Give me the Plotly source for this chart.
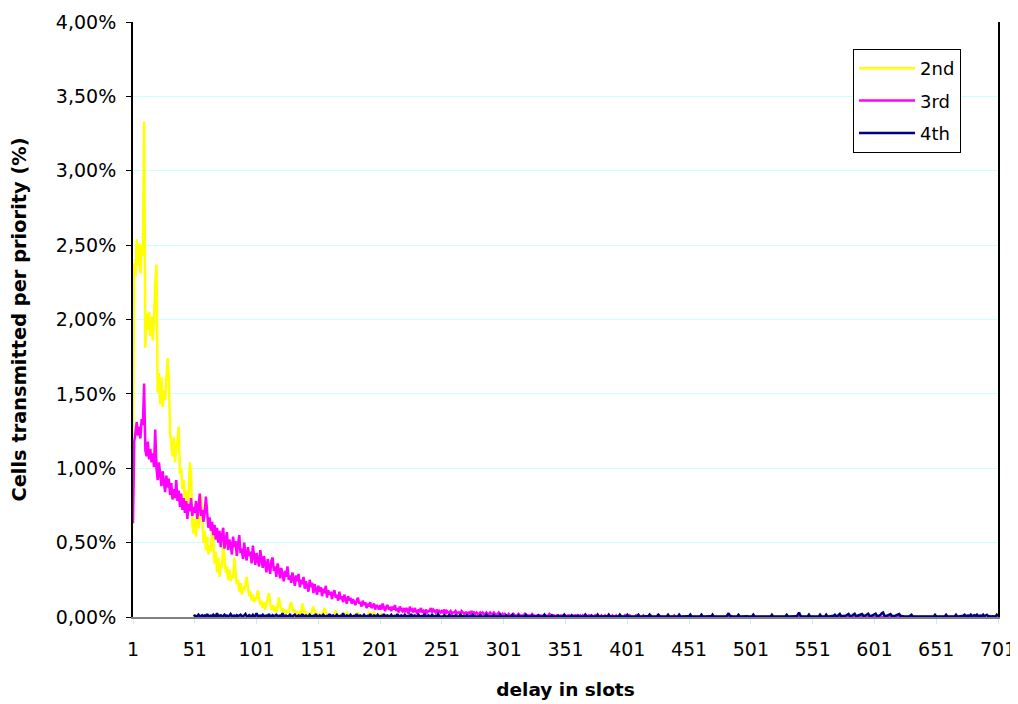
import plotly.graph_objects as go

# values in hundredths of a percent (333 -> 3.33 %), one per delay slot starting at slot 1
second = [
    122, 238, 229, 254, 236, 251, 231, 250, 243, 333,
    181, 204, 193, 205, 189, 202, 186, 199, 224, 237,
    151, 164, 143, 161, 141, 152, 146, 162, 174, 160,
    124, 116, 108, 121, 104, 113, 118, 128, 96, 100,
    86, 92, 78, 85, 74, 83, 104, 96, 62, 56,
    66, 54, 71, 60, 68, 82, 72, 50, 58, 45,
    54, 42, 48, 44, 60, 52, 36, 44, 30, 40,
    27, 36, 33, 50, 42, 30, 34, 25, 32, 24,
    28, 26, 40, 32, 22, 25, 17, 23, 15, 20,
    18, 22, 27, 20, 14, 17, 11, 15, 10, 13,
    12, 18, 14, 8, 11, 6, 10, 5, 9, 12,
    16, 10, 5, 8, 4, 7, 3, 6, 13, 9,
    4, 6, 3, 5, 2, 4, 3, 8, 10, 6,
    3, 4, 2, 3, 1, 3, 2, 9, 5, 2,
    3, 1, 2, 1, 2, 4, 7, 4, 1, 2,
    1, 2, 1, 1, 3, 6, 3, 1, 1, 0,
    1, 1, 0, 2, 4, 2, 1, 0, 1, 0,
    0, 1, 1, 3, 2, 0, 1, 0, 0, 1,
    0, 1, 3, 1, 0, 0, 1, 0, 0, 0,
    1, 3, 2, 1, 2, 3, 1, 0, 0, 1,
    0, 2, 1, 0, 0, 1, 0, 0, 1, 0,
    0, 1, 0, 0, 0, 1, 0, 0, 0, 0,
    0, 0, 1, 0, 0, 0, 0, 0, 1, 0,
    0, 0, 0, 0, 0, 0, 0, 0, 0, 0,
    0, 0, 0, 0, 0, 0, 0, 0, 0, 0,
    0, 0, 0, 0, 0, 0, 0, 0, 0, 0,
    0, 0, 0, 0, 0, 0, 0, 0, 0, 0,
    0, 0, 0, 0, 0, 0, 0, 0, 0, 0,
    0, 0, 0, 0, 0, 0, 0, 0, 0, 0,
    0, 0, 0, 0, 0, 0, 0, 0, 0, 0,
    0, 0, 0, 0, 0, 0, 0, 0, 0, 0,
    0, 0, 0, 0, 0, 0, 0, 0, 0, 0,
    0, 0, 0, 0, 0, 0, 0, 0, 0, 0,
    0, 0, 0, 0, 0, 0, 0, 0, 0, 0,
    0, 0, 0, 0, 0, 0, 0, 0, 0, 0,
    0, 0, 0, 0, 0, 0, 0, 0, 0, 0,
    0, 0, 0, 0, 0, 0, 0, 0, 0, 0,
    0, 0, 0, 0, 0, 0, 0, 0, 0, 0,
    0, 0, 0, 0, 0, 0, 0, 0, 0, 0,
    0, 0, 0, 0, 0, 0, 0, 0, 0, 0,
    0, 0, 0, 0, 0, 0, 0, 0, 0, 0,
    0, 0, 0, 0, 0, 0, 0, 0, 0, 0,
    0, 0, 0, 0, 0, 0, 0, 0, 0, 0,
    0, 0, 0, 0, 0, 0, 0, 0, 0, 0,
    0, 0, 0, 0, 0, 0, 0, 0, 0, 0,
    0, 0, 0, 0, 0, 0, 0, 0, 0, 0,
    0, 0, 0, 0, 0, 0, 0, 0, 0, 0,
    0, 0, 0, 0, 0, 0, 0, 0, 0, 0,
    0, 0, 0, 0, 0, 0, 0, 0, 0, 0,
    0, 0, 0, 0, 0, 0, 0, 0, 0, 0,
    0, 0, 0, 0, 0, 0, 0, 0, 0, 0,
    0, 0, 0, 0, 0, 0, 0, 0, 0, 0,
    0, 0, 0, 0, 0, 0, 0, 0, 0, 0,
    0, 0, 0, 0, 0, 0, 0, 0, 0, 0,
    0, 0, 0, 0, 0, 0, 0, 0, 0, 0,
    0, 0, 0, 0, 0, 0, 0, 0, 0, 0,
    0, 0, 0, 0, 0, 0, 0, 0, 0, 0,
    0, 0, 0, 0, 0, 0, 0, 0, 0, 0,
    0, 0, 0, 0, 0, 0, 0, 0, 0, 0,
    0, 0, 0, 0, 0, 0, 0, 0, 0, 0,
    0, 0, 0, 0, 0, 0, 0, 0, 0, 0,
    0, 0, 0, 0, 0, 0, 0, 0, 0, 0,
    0, 0, 0, 0, 0, 0, 0, 0, 0, 0,
    0, 0, 0, 0, 0, 0, 0, 0, 0, 0,
    0, 0, 0, 0, 0, 0, 0, 0, 0, 0,
    0, 0, 0, 0, 0, 0, 0, 0, 0, 0,
    0, 0, 0, 0, 0, 0, 0, 0, 0, 0,
    0, 0, 0, 0, 0, 0, 0, 0, 0, 0,
    0, 0, 0, 0, 0, 0, 0, 0, 0, 0,
    0, 0, 0, 0, 0, 0, 0, 0, 0, 0,
    0,
]

third = [
    63, 118, 124, 131, 122, 128, 120, 133, 129, 157,
    112, 108, 118, 106, 113, 104, 110, 101, 126, 100,
    92, 104, 96, 88, 98, 91, 84, 95, 87, 93,
    82, 90, 79, 86, 80, 92, 78, 85, 74, 83,
    72, 80, 70, 78, 66, 76, 71, 80, 68, 74,
    70, 78, 66, 74, 83, 68, 72, 64, 70, 81,
    66, 60, 67, 58, 64, 55, 62, 52, 60, 50,
    58, 47, 55, 60, 46, 53, 57, 45, 52, 49,
    42, 54, 47, 51, 41, 49, 55, 43, 46, 39,
    50, 42, 38, 47, 41, 44, 36, 48, 40, 35,
    43, 38, 34, 45, 37, 33, 41, 36, 30, 39,
    35, 29, 38, 40, 31, 34, 27, 36, 32, 26,
    33, 29, 24, 31, 27, 34, 25, 28, 23, 30,
    26, 21, 28, 24, 29, 20, 25, 22, 27, 19,
    24, 21, 17, 25, 20, 23, 16, 22, 19, 15,
    21, 17, 20, 14, 19, 16, 21, 13, 18, 15,
    17, 12, 16, 18, 13, 15, 11, 17, 12, 14,
    10, 15, 12, 9, 14, 11, 13, 9, 12, 10,
    8, 11, 13, 9, 10, 7, 11, 8, 10, 6,
    9, 7, 10, 6, 8, 9, 5, 8, 7, 5,
    8, 5, 9, 6, 4, 7, 8, 5, 6, 4,
    7, 5, 8, 4, 6, 3, 7, 5, 4, 6,
    3, 6, 5, 2, 7, 4, 5, 3, 6, 4,
    2, 5, 4, 6, 3, 4, 2, 5, 3, 4,
    4, 6, 3, 5, 4, 3, 5, 3, 4, 3,
    4, 3, 5, 2, 4, 3, 3, 4, 2, 3,
    3, 4, 2, 3, 3, 2, 4, 3, 2, 3,
    3, 2, 3, 2, 4, 2, 3, 2, 3, 2,
    2, 3, 2, 3, 2, 2, 3, 2, 2, 3,
    2, 2, 3, 2, 1, 2, 3, 2, 1, 2,
    1, 2, 1, 1, 2, 1, 1, 1, 2, 1,
    1, 1, 2, 1, 1, 1, 1, 2, 1, 1,
    1, 1, 1, 2, 1, 1, 0, 1, 1, 1,
    1, 0, 1, 1, 1, 0, 1, 2, 1, 0,
    1, 1, 0, 1, 1, 0, 1, 1, 0, 1,
    1, 0, 1, 1, 0, 1, 0, 1, 1, 0,
    1, 0, 1, 0, 1, 0, 0, 1, 0, 1,
    0, 1, 0, 0, 1, 0, 1, 0, 0, 1,
    0, 0, 1, 0, 0, 1, 0, 0, 1, 0,
    0, 1, 0, 0, 1, 0, 0, 0, 1, 0,
    0, 0, 1, 0, 0, 0, 0, 1, 0, 0,
    0, 0, 0, 1, 0, 0, 0, 0, 0, 1,
    0, 0, 0, 0, 0, 0, 1, 0, 0, 0,
    0, 0, 0, 0, 0, 0, 0, 0, 1, 0,
    0, 0, 0, 0, 0, 0, 0, 0, 0, 0,
    0, 0, 0, 0, 0, 0, 0, 0, 0, 0,
    0, 0, 0, 0, 0, 0, 0, 0, 0, 0,
    0, 0, 0, 0, 0, 0, 0, 0, 0, 0,
    0, 0, 0, 0, 0, 0, 0, 0, 0, 0,
    0, 0, 0, 0, 0, 0, 0, 0, 0, 0,
    0, 0, 0, 0, 0, 0, 0, 0, 0, 0,
    0, 0, 0, 0, 0, 0, 0, 0, 0, 0,
    0, 0, 0, 0, 0, 0, 0, 0, 0, 0,
    0, 0, 0, 0, 0, 0, 0, 0, 0, 0,
    0, 0, 0, 0, 0, 0, 0, 0, 0, 0,
    0, 0, 0, 0, 0, 0, 0, 0, 0, 0,
    0, 0, 0, 0, 0, 0, 0, 0, 0, 0,
    0, 0, 0, 0, 0, 0, 0, 0, 0, 0,
    0, 0, 0, 0, 0, 0, 0, 0, 0, 0,
    0, 0, 0, 0, 0, 0, 0, 0, 0, 0,
    0, 0, 0, 0, 0, 0, 0, 0, 0, 0,
    0, 0, 0, 0, 0, 0, 0, 0, 0, 0,
    0, 0, 0, 0, 0, 0, 0, 0, 0, 0,
    0, 0, 0, 0, 0, 0, 0, 0, 0, 0,
    0, 0, 0, 0, 0, 0, 0, 0, 0, 0,
    0, 0, 0, 0, 0, 0, 0, 0, 0, 0,
    0, 0, 0, 0, 0, 0, 0, 0, 0, 0,
    0, 0, 0, 0, 0, 0, 0, 0, 0, 0,
    0,
]

# 4th priority is recorded from slot 50 onwards
fourth_first_slot = 50
fourth = [
    0.5, 1, 0.4, 0.6, 1.5, 0.5, 0.8, 1.2, 0.4, 1,
    0.6, 2, 0.5, 0.8, 1, 0.4, 1.5, 0.6, 0.5, 2.5,
    0.5, 0.8, 1.2, 0.4, 0.6, 1.5, 0.5, 1, 0.4, 0.8,
    2, 0.5, 0.6, 1, 0.4, 1.2, 0.5, 0.8, 1.5, 0.4,
    0.6, 1, 2, 0.5, 0.4, 1.2, 0.6, 0.5, 1.5, 0.4,
    0.8, 2.5, 0.5, 0.6, 1, 0.4, 1.5, 0.5, 0.8, 1,
    0.4, 2, 0.6, 0.5, 1.2, 0.4, 0.8, 1.5, 0.5, 0.6,
    1, 0.4, 2.5, 0.5, 0.8, 1, 0.4, 0.6, 1.5, 0.5,
    0.4, 0.8, 1.5, 0.5, 0.4, 1, 0.6, 0.4, 2, 0.5,
    0.6, 1, 0.4, 0.5, 1.5, 0.4, 0.6, 0.8, 0.4, 2,
    0.5, 0.4, 1, 0.6, 0.4, 1.5, 0.5, 0.4, 0.8, 0.5,
    2, 0.4, 0.6, 1, 0.4, 0.5, 1.5, 0.4, 0.6, 0.8,
    0.4, 2.5, 0.5, 0.4, 1, 0.6, 0.4, 1.5, 0.5, 0.4,
    0.8, 0.5, 2, 0.4, 0.6, 1, 0.4, 0.5, 1.5, 0.4,
    0.6, 0.8, 0.4, 2, 0.5, 0.4, 1, 0.6, 0.4, 1.5,
    0.5, 0.4, 0.8, 0.5, 2, 0.4, 0.6, 1, 0.4, 0.5,
    1.5, 0.4, 0.6, 0.8, 0.4, 2, 0.5, 0.4, 1, 0.6,
    0.4, 1.5, 0.5, 0.4, 0.8, 0.5, 2, 0.4, 0.6, 1,
    0.4, 0.5, 1.5, 0.4, 0.6, 0.8, 0.4, 2, 0.5, 0.4,
    1, 0.6, 0.4, 1.5, 0.5, 0.4, 0.8, 0.5, 1.8, 0.4,
    0.3, 0.6, 0.3, 1.2, 0.4, 0.3, 0.5, 1.5, 0.3, 0.4,
    0.3, 0.6, 1, 0.3, 0.4, 0.3, 1.5, 0.3, 0.5, 0.3,
    0.4, 1.2, 0.3, 0.3, 0.6, 0.3, 1.5, 0.4, 0.3, 0.3,
    0.5, 0.3, 1.2, 0.3, 0.4, 0.3, 0.3, 1.5, 0.3, 0.5,
    0.3, 0.4, 0.3, 1.2, 0.3, 0.3, 0.5, 0.3, 1.5, 0.3,
    0.4, 0.3, 0.3, 1, 0.3, 0.5, 0.3, 0.3, 1.5, 0.3,
    0.3, 0.4, 0.3, 1.2, 0.3, 0.3, 0.5, 0.3, 0.3, 1.5,
    0.3, 0.4, 0.3, 0.3, 1, 0.3, 0.5, 0.3, 0.3, 1.2,
    0.3, 0.3, 0.4, 0.3, 1.5, 0.3, 0.3, 0.5, 0.3, 0.3,
    1.2, 0.3, 0.4, 0.3, 0.3, 1, 0.3, 0.3, 0.5, 0.3,
    1.5, 0.3, 0.3, 0.4, 0.3, 0.3, 1.2, 0.3, 0.3, 0.5,
    0.3, 1, 0.3, 0.3, 0.4, 0.3, 0.3, 1.5, 0.3, 0.3,
    0.4, 0.3, 1, 0.3, 0.3, 0.5, 0.3, 1.5, 0.3, 0.3,
    0.4, 0.3, 0.3, 0.3, 0.5, 0.3, 1.5, 0.3, 0.3, 0.4,
    0.3, 0.3, 0.3, 0.5, 0.3, 1.5, 0.3, 0.3, 0.4, 0.3,
    0.5, 1.5, 0.3, 0.3, 0.3, 0.4, 0.3, 0.3, 0.3, 0.5,
    1.5, 0.3, 0.3, 0.4, 0.3, 0.3, 0.3, 0.5, 0.3, 1.5,
    0.3, 0.3, 0.4, 0.3, 0.3, 0.5, 1.5, 0.3, 0.3, 0.3,
    0.4, 0.3, 0.3, 0.5, 1.5, 0.3, 0.3, 0.3, 0.4, 0.3,
    0.3, 0.5, 0.3, 1.5, 0.3, 0.3, 0.4, 0.3, 0.3, 0.3,
    0.5, 0.3, 1.5, 0.3, 0.3, 0.4, 0.3, 0.3, 0.3, 0.5,
    0.3, 1.5, 0.3, 0.3, 0.4, 0.3, 0.3, 0.3, 0.5, 0.3,
    1.5, 0.3, 0.3, 0.4, 0.3, 0.3, 0.3, 0.5, 0.3, 0.3,
    0.4, 0.3, 1.2, 2.5, 0.8, 0.3, 0.3, 0.4, 0.3, 0.3,
    0.5, 1.5, 0.3, 0.3, 0.4, 0.3, 0.3, 0.3, 0.5, 0.3,
    0.3, 0.4, 0.3, 1.5, 0.3, 0.3, 0.5, 0.3, 0.3, 0.3,
    0.4, 0.3, 0.3, 0.3, 0.5, 0.3, 0.3, 0.4, 1.5, 0.3,
    0.3, 0.3, 0.5, 0.3, 0.3, 0.4, 0.3, 0.3, 0.3, 0.5,
    1.5, 0.3, 0.3, 0.4, 0.3, 0.3, 0.3, 0.5, 0.3, 1.5,
    3, 1, 0.3, 0.4, 0.3, 0.3, 0.5, 0.3, 1.5, 0.3,
    0.3, 0.4, 0.3, 0.3, 0.5, 0.3, 0.3, 1.5, 0.3, 0.3,
    0.4, 0.3, 1.5, 0.3, 0.3, 0.5, 0.3, 0.4, 0.8, 1.5,
    0.6, 0.5, 1, 2, 0.6, 0.5, 0.8, 0.6, 1, 1.5,
    2, 0.8, 0.6, 1, 1.5, 2.2, 0.8, 0.6, 1, 1.2,
    1.8, 2, 0.8, 0.6, 1.2, 1.5, 2.2, 0.8, 0.6, 1,
    1.2, 1.8, 2.2, 0.8, 0.6, 1, 1.5, 2.5, 3, 1,
    0.6, 0.8, 1.2, 1.5, 2, 0.8, 0.6, 0.5, 1, 1.2,
    1.5, 2, 0.8, 0.5, 0.4, 0.3, 0.3, 0.5, 0.3, 0.3,
    0.8, 1.5, 0.4, 0.3, 0.3, 0.3, 0.4, 0.3, 0.3, 0.3,
    0.3, 0.4, 0.3, 0.3, 0.3, 0.5, 0.3, 0.3, 0.3, 0.4,
    1.5, 0.3, 0.3, 0.3, 0.4, 0.3, 0.3, 0.3, 0.5, 1.5,
    0.3, 0.3, 0.4, 0.3, 0.3, 0.3, 0.5, 1.5, 0.3, 0.3,
    0.4, 0.3, 0.5, 0.8, 1.5, 0.5, 0.8, 1, 0.6, 1.5,
    0.5, 0.8, 1.2, 0.6, 1.5, 0.5, 0.8, 1, 0.6, 1.5,
    0.5, 0.8, 1.5, 0.6, 0.4, 0.3, 0.3, 0.5, 0.3, 0.4,
    1.5, 0.5,
]

series_names = ["2nd", "3rd", "4th"]
series_colors = ["#FFFF00", "#FF00FF", "#000080"]
x_tick_labels = [1, 51, 101, 151, 201, 251, 301, 351, 401, 451, 501, 551, 601, 651, 701]
y_max = 0.04

def to_fraction(values):
    return [v / 10000 for v in values]

fig = go.Figure()
fig.add_trace(go.Scatter(
    x=list(range(1, len(second) + 1)), y=to_fraction(second),
    mode="lines", name=series_names[0], legendgroup=series_names[0],
    line=dict(color=series_colors[0], width=2.5)))
fig.add_trace(go.Scatter(
    x=list(range(1, len(third) + 1)), y=to_fraction(third),
    mode="lines", name=series_names[1], legendgroup=series_names[1],
    line=dict(color=series_colors[1], width=2.5)))
fig.add_trace(go.Scatter(
    x=list(range(fourth_first_slot, fourth_first_slot + len(fourth))), y=to_fraction(fourth),
    mode="lines", name=series_names[2], legendgroup=series_names[2],
    line=dict(color=series_colors[2], width=2.5)))

tick_font = dict(family="DejaVu Sans", size=19, color="black")

# the page body adds an 8 px margin, so the figure is sized to the remaining window
fig.update_layout(
    width=1010, height=696,
    margin=dict(l=125, r=20, t=14, b=87),
    paper_bgcolor="white", plot_bgcolor="white",
    separators=",.",
    showlegend=True,
    legend=dict(
        x=0.8324, y=0.9546, xanchor="left", yanchor="top",
        bgcolor="white", bordercolor="black", borderwidth=1,
        font=dict(family="DejaVu Sans", size=18, color="black"),
        tracegroupgap=6, itemwidth=56,
    ),
    xaxis=dict(
        range=[1, 701], tickvals=x_tick_labels, ticktext=[str(t) for t in x_tick_labels],
        showgrid=False, zeroline=False, automargin=False,
        showline=True, linecolor="#808080", linewidth=2,
        ticks="outside", ticklen=5, tickcolor="#c8f0f0",
        ticklabelstandoff=9,
        tickfont=tick_font,
        title=dict(text="delay in slots",
                   font=dict(family="DejaVu Sans", size=18.5, color="black", weight="bold"),
                   standoff=24),
    ),
    yaxis=dict(
        range=[0, y_max], dtick=0.005, tickformat=".2%",
        showgrid=True, gridcolor="#CCFFFF", gridwidth=1, zeroline=False, automargin=False,
        showline=True, linecolor="black", linewidth=2, mirror=True,
        ticks="outside", ticklen=5, tickcolor="black",
        ticklabelstandoff=6,
        tickfont=tick_font,
        title=dict(text="Cells transmitted per priority (%)",
                   font=dict(family="DejaVu Sans", size=19.4, color="black", weight="bold"),
                   standoff=24),
    ),
)

fig.write_html("out.html")
